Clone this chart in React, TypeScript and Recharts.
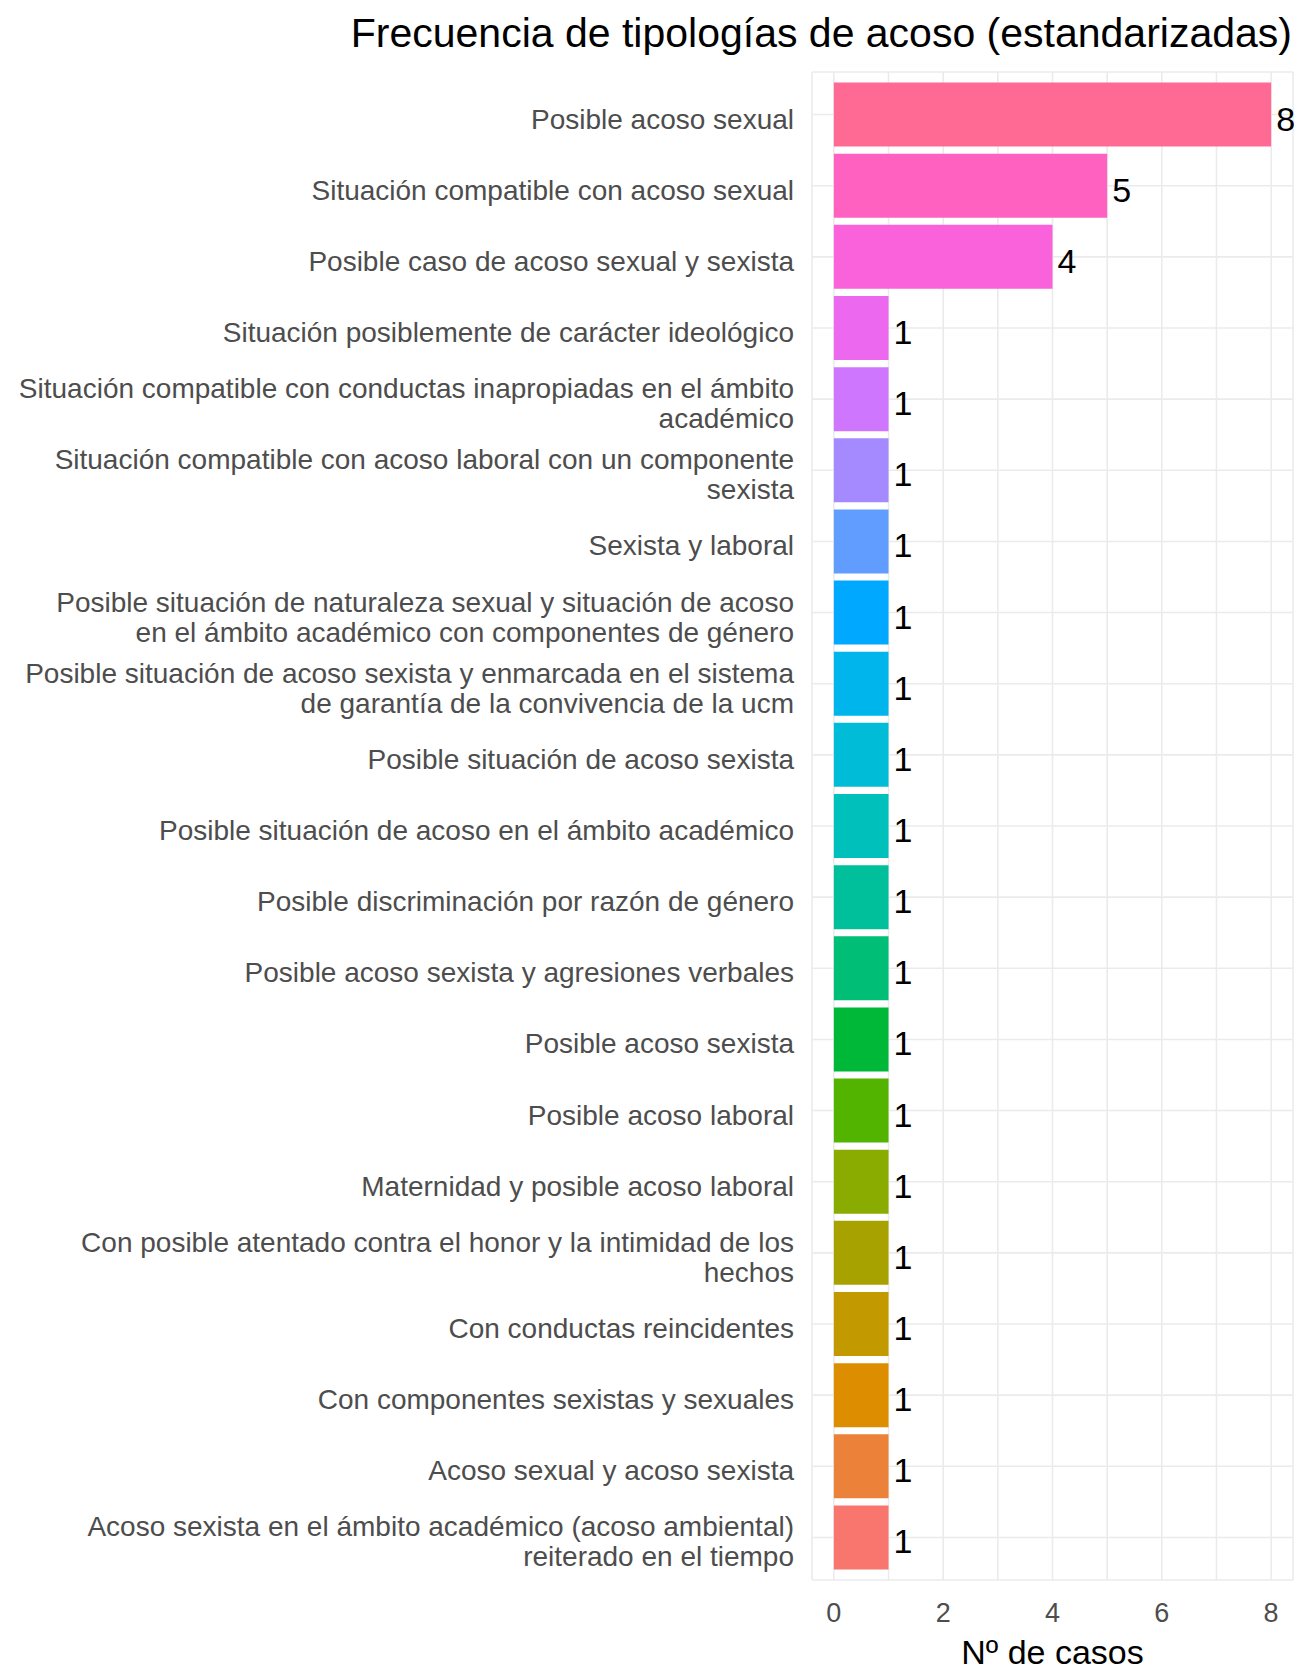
import React from "react";
import { BarChart, Bar, XAxis, YAxis, CartesianGrid, Cell, LabelList } from "recharts";

if (typeof document !== "undefined") document.body.style.margin = "0";

const FONT = '"Liberation Sans", Arial, sans-serif';
const TICK = "#4d4d4d";
const GRID = "#ebebeb";

// categorías de arriba abajo (\n = salto de línea del original)
const CATEGORIAS = [
  "Posible acoso sexual",
  "Situación compatible con acoso sexual",
  "Posible caso de acoso sexual y sexista",
  "Situación posiblemente de carácter ideológico",
  "Situación compatible con conductas inapropiadas en el ámbito\nacadémico",
  "Situación compatible con acoso laboral con un componente\nsexista",
  "Sexista y laboral",
  "Posible situación de naturaleza sexual y situación de acoso\nen el ámbito académico con componentes de género",
  "Posible situación de acoso sexista y enmarcada en el sistema\nde garantía de la convivencia de la ucm",
  "Posible situación de acoso sexista",
  "Posible situación de acoso en el ámbito académico",
  "Posible discriminación por razón de género",
  "Posible acoso sexista y agresiones verbales",
  "Posible acoso sexista",
  "Posible acoso laboral",
  "Maternidad y posible acoso laboral",
  "Con posible atentado contra el honor y la intimidad de los\nhechos",
  "Con conductas reincidentes",
  "Con componentes sexistas y sexuales",
  "Acoso sexual y acoso sexista",
  "Acoso sexista en el ámbito académico (acoso ambiental)\nreiterado en el tiempo",
];
const CASOS = [8, 5, 4, 1, 1, 1, 1, 1, 1, 1, 1, 1, 1, 1, 1, 1, 1, 1, 1, 1, 1];
const COLORES = [
  "#ff6a94", "#ff61c0", "#fa62db", "#ec69ef", "#cf76ff", "#a58aff", "#619cff",
  "#00a9ff", "#00b4ec", "#00bcd6", "#00c0bc", "#00c09c", "#00be76", "#00b838",
  "#53b400", "#8aab00", "#a8a200", "#c39900", "#dc8e00", "#ec8239", "#f8766d",
];
const X_TICKS = [0, 1, 2, 3, 4, 5, 6, 7, 8];
const X_LABELS = [0, 2, 4, 6, 8];

const data = CATEGORIAS.map((c, i) => ({ tipo: c, casos: CASOS[i] }));

function YTick({ x, y, payload }: any) {
  const lines = String(payload.value).split("\n");
  const lh = 30;
  return (
    <g>
      {lines.map((l, i) => (
        <text key={i} x={x - 10} y={y + (i - (lines.length - 1) / 2) * lh + 14} textAnchor="end"
          fontSize={28} fontFamily={FONT} fill={TICK}>
          {l}
        </text>
      ))}
    </g>
  );
}

function XTick({ x, y, payload }: any) {
  if (!X_LABELS.includes(payload.value)) return null;
  return (
    <text x={x} y={y + 34} textAnchor="middle" fontSize={27} fontFamily={FONT} fill={TICK}>
      {payload.value}
    </text>
  );
}

export default function App() {
  return (
    <div style={{ position: "relative", width: 1296, height: 1670, background: "#fff" }}>
      <div style={{ position: "absolute", right: 4, top: 10, fontFamily: FONT, fontSize: 41, color: "#000", whiteSpace: "nowrap" }}>
        Frecuencia de tipologías de acoso (estandarizadas)
      </div>
      <BarChart width={1296} height={1670} data={data} layout="vertical"
        margin={{ top: 72, right: 3, bottom: 0, left: 0 }} barCategoryGap="5%">
        <CartesianGrid stroke={GRID} strokeWidth={1.6} />
        <XAxis type="number" domain={[-0.4, 8.4]} ticks={X_TICKS} allowDataOverflow
          axisLine={false} tickLine={false} height={90} tick={<XTick />}
          label={{ value: "Nº de casos", position: "insideBottom", offset: 6, fill: "#000", fontSize: 34, fontFamily: FONT }} />
        <YAxis type="category" dataKey="tipo" width={812} axisLine={false} tickLine={false}
          interval={0} tick={<YTick />} padding={{ top: 7, bottom: 7 }} />
        <Bar dataKey="casos" isAnimationActive={false}>
          {data.map((d, i) => <Cell key={d.tipo} fill={COLORES[i]} />)}
          <LabelList dataKey="casos" position="right" offset={5} fill="#000" fontSize={34} fontFamily={FONT} dy={4} />
        </Bar>
      </BarChart>
    </div>
  );
}
